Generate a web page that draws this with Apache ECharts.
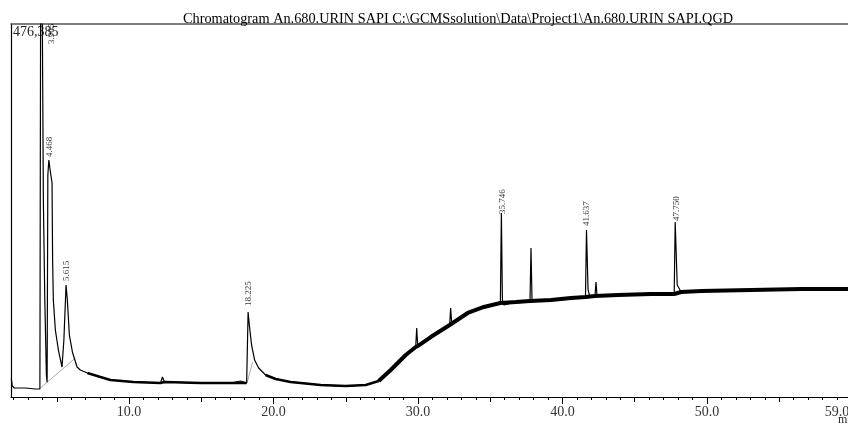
<!DOCTYPE html>
<html>
<head>
<meta charset="utf-8">
<style>html,body{margin:0;padding:0;background:#fff}#c{width:848px;height:430px}</style>
<script src="https://cdn.jsdelivr.net/npm/echarts@6/dist/echarts.min.js"></script>
</head>
<body>
<div id="c"></div>
<script>
// ---- data ----
const titleText = 'Chromatogram An.680.URIN SAPI C:\\GCMSsolution\\Data\\Project1\\An.680.URIN SAPI.QGD';
const yMaxLabel = '476,385';
const yMax = 476385;
const xMin = 1.83, xMax = 59.76;
const tickLabelValues = [10, 20, 30, 40, 50, 59];
const mediumTickValues = [5, 15, 25, 35, 45, 55];

const traceTime = [1.85,1.92,2.06,2.82,3.51,3.83,3.89,3.92,3.96,4.07,4.17,4.28,4.33,4.38,4.45,4.52,4.67,4.71,4.76,4.90,5.11,5.36,5.49,5.64,5.73,5.87,6.08,6.40,6.63,7.12,8.02,8.71,10.3,12.18,12.31,12.45,14.95,17.03,17.72,18.14,18.24,18.34,18.48,18.69,18.97,19.45,20.15,21.18,23.26,24.99,26.38,27.28,28.11,29.15,29.84,29.91,29.98,30.88,32.19,32.26,32.33,33.44,34.56,35.70,35.77,35.84,35.95,36.78,37.75,37.82,37.89,39.2,40.59,41.59,41.66,41.77,41.90,42.25,42.32,42.39,43.85,46.13,47.73,47.80,47.94,48.21,49.6,53.06,56.53,59.85];
const traceSignal = [24000,14000,11500,11500,10200,10200,600000,900000,600000,251600,124000,28000,19000,283500,302700,292500,273300,175000,124000,85600,60000,38300,72800,143000,124000,79200,57500,38300,34500,30700,25500,21700,19200,17900,25500,19200,17900,17900,20400,17900,108600,89400,66400,47300,37000,28100,23000,19200,15300,14000,15300,20400,34500,53600,63900,88100,65100,76600,92000,113700,94500,107300,115000,120000,235000,123900,117500,121300,122600,190300,123900,123900,126400,127700,213300,136700,127700,129000,146900,129000,130300,131600,131600,223500,143000,134100,135400,136700,137900,137900];

// noisy baseline envelope centre (spikes excluded)
const earlyBandTime = [7.12,8.02,8.71,10.3,12.18,12.45,14.95,17.03,18.14,null,19.45,20.15,21.18,23.26,24.99,26.38,27.28];
const earlyBandSignal = [30700,25500,21700,19200,17900,19200,17900,17900,17900,null,28100,23000,19200,15300,14000,15300,20400];
const lateBandTime = [27.28,28.11,29.15,29.84,29.98,30.88,32.19,33.44,34.56,35.70,36.78,37.75,39.2,40.59,41.59,42.25,43.85,46.13,47.73,48.21,49.6,53.06,56.53,59.85];
const lateBandSignal = [20400,34500,53600,63900,65100,76600,92000,107300,115000,120000,121300,122600,123900,126400,127700,129000,130300,131600,131600,134100,135400,136700,137900,137900];

// integration baselines (grey)
const baseTime = [3.86, 6.29, null, 18.17, 18.55];
const baseSignal = [11500, 49800, null, 17900, 44700];

// peak labels: anchor time, anchor signal (bottom of the text), text
const peakLabelTime = [4.66, 4.52, 5.70, 18.27, 35.84, 41.68, 47.89];
const peakLabelSignal = [449600, 305200, 146900, 115000, 232400, 217100, 223500];
const peakLabelText = ['3.905', '4.468', '5.615', '18.225', '35.746', '41.637', '47.750'];

// ---- build ----
const zip = (a, b) => a.map((t, i) => (t === null ? [null, null] : [t, b[i]]));
const serif = '"Liberation Serif", "DejaVu Serif", serif';
const minorTicks = [];
for (let m = 2; m <= 59; m++) minorTicks.push(m);

const chart = echarts.init(document.getElementById('c'), null, {renderer: 'canvas'});
const xBase = {type: 'value', min: xMin, max: xMax, splitLine: {show: false}, gridIndex: 0};
chart.setOption({
  animation: false,
  backgroundColor: '#fff',
  title: {
    text: titleText, left: 178, top: 7,
    textStyle: {fontFamily: serif, fontSize: 14.3, fontWeight: 'normal', color: '#000'}
  },
  grid: {left: 11, right: 0, top: 24, bottom: 33, containLabel: false, outerBoundsMode: 'none'},
  xAxis: [
    Object.assign({}, xBase, {
      position: 'bottom',
      axisLine: {show: true, lineStyle: {color: '#000', width: 1.2}},
      axisTick: {show: true, customValues: minorTicks, length: 3, lineStyle: {color: '#000'}},
      axisLabel: {show: false}
    }),
    Object.assign({}, xBase, {
      position: 'bottom',
      axisLine: {show: false},
      axisTick: {show: true, customValues: mediumTickValues, length: 5, lineStyle: {color: '#000'}},
      axisLabel: {show: false}
    }),
    Object.assign({}, xBase, {
      position: 'bottom',
      axisLine: {show: false},
      axisTick: {show: true, customValues: tickLabelValues.slice(0, 5), length: 7, lineStyle: {color: '#000'}},
      axisLabel: {show: true, customValues: tickLabelValues, margin: 8, hideOverlap: false,
        formatter: v => Number(v).toFixed(1),
        fontFamily: serif, fontSize: 14, color: '#333'}
    }),
    Object.assign({}, xBase, {
      position: 'top',
      axisLine: {show: true, lineStyle: {color: '#555', width: 1.5}},
      axisTick: {show: false}, axisLabel: {show: false}
    })
  ],
  yAxis: {
    type: 'value', min: 0, max: yMax,
    axisLine: {show: true, lineStyle: {color: '#000', width: 1.2}},
    axisTick: {show: false}, axisLabel: {show: false}, splitLine: {show: false}
  },
  graphic: [
    {type: 'text', left: 13, top: 25, style: {text: yMaxLabel, font: '14px ' + serif, fill: '#222'}},
    {type: 'text', left: 838, top: 414, style: {text: 'min', font: '12px ' + serif, fill: '#222'}}
  ],
  series: [
    {type: 'line', data: zip(earlyBandTime, earlyBandSignal), showSymbol: false, connectNulls: false,
     lineStyle: {color: '#000', width: 2.5}, silent: true, z: 2},
    {type: 'line', data: zip(lateBandTime, lateBandSignal), showSymbol: false,
     lineStyle: {color: '#000', width: 4}, silent: true, z: 2},
    {type: 'line', data: zip(baseTime, baseSignal), showSymbol: false, connectNulls: false,
     lineStyle: {color: '#aaa', width: 1}, silent: true, z: 1},
    {type: 'line', data: zip(traceTime, traceSignal), showSymbol: false, sampling: null,
     lineStyle: {color: '#000', width: 1.2}, clip: true, z: 3},
    {type: 'scatter', symbolSize: 0, z: 4,
     data: peakLabelTime.map((t, i) => ({value: [t, peakLabelSignal[i]], name: peakLabelText[i]})),
     label: {show: true, position: 'top', distance: 1, rotate: 90, align: 'left', verticalAlign: 'middle',
       formatter: p => p.name, fontFamily: serif, fontSize: 9, color: '#000'}}
  ]
});
</script>
</body>
</html>
